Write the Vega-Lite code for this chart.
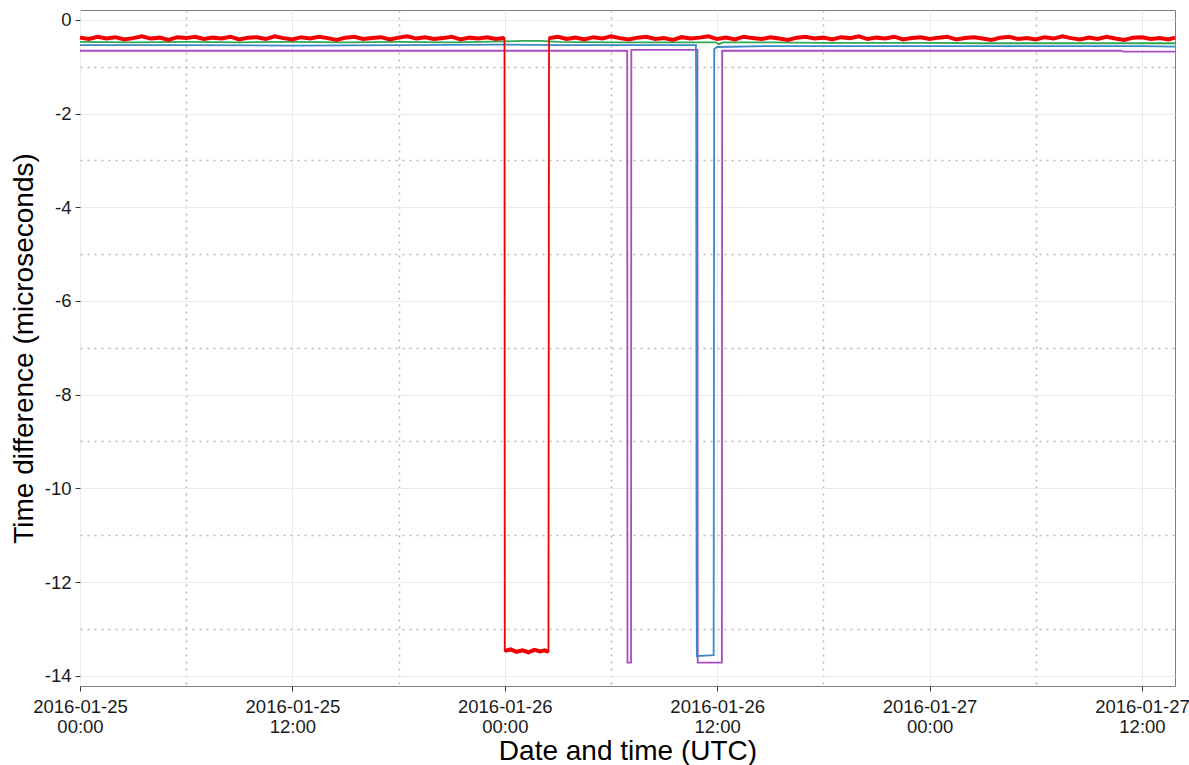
{
  "$schema": "https://vega.github.io/schema/vega-lite/v6.json",
  "width": 1095,
  "height": 676,
  "autosize": {"type": "none"},
  "padding": {"left": 80, "top": 10, "right": 14, "bottom": 79},
  "background": "white",
  "config": {
    "font": "Liberation Sans",
    "view": {"stroke": "#7f7f7f", "strokeWidth": 1},
    "axis": {
      "domain": false,
      "tickColor": "#333333",
      "tickSize": 5,
      "tickWidth": 1,
      "labelFont": "Liberation Sans",
      "labelFontSize": 18.5,
      "labelColor": "#1a1a1a",
      "titleFont": "Liberation Sans",
      "titleFontSize": 28,
      "titleFontWeight": "normal",
      "titleColor": "#000000",
      "labelOverlap": false,
      "labelFlush": false,
      "labelBound": false
    }
  },
  "datasets": {
    "others": [
      {"series": "purple", "t": "2016-01-25T00:00:00Z", "v": -0.66},
      {"series": "purple", "t": "2016-01-25T12:00:00Z", "v": -0.66},
      {"series": "purple", "t": "2016-01-26T00:00:00Z", "v": -0.66},
      {"series": "purple", "t": "2016-01-26T06:55:00Z", "v": -0.66},
      {"series": "purple", "t": "2016-01-26T06:56:00Z", "v": -13.72},
      {"series": "purple", "t": "2016-01-26T07:08:00Z", "v": -13.72},
      {"series": "purple", "t": "2016-01-26T07:09:00Z", "v": -0.64},
      {"series": "purple", "t": "2016-01-26T10:53:00Z", "v": -0.64},
      {"series": "purple", "t": "2016-01-26T10:54:00Z", "v": -13.72},
      {"series": "purple", "t": "2016-01-26T12:16:00Z", "v": -13.72},
      {"series": "purple", "t": "2016-01-26T12:17:00Z", "v": -0.66},
      {"series": "purple", "t": "2016-01-27T00:00:00Z", "v": -0.66},
      {"series": "purple", "t": "2016-01-27T10:50:00Z", "v": -0.66},
      {"series": "purple", "t": "2016-01-27T10:55:00Z", "v": -0.68},
      {"series": "purple", "t": "2016-01-27T13:52:00Z", "v": -0.68},
      {"series": "blue", "t": "2016-01-25T00:00:00Z", "v": -0.54},
      {"series": "blue", "t": "2016-01-25T06:00:00Z", "v": -0.54},
      {"series": "blue", "t": "2016-01-25T12:00:00Z", "v": -0.55},
      {"series": "blue", "t": "2016-01-25T18:00:00Z", "v": -0.54},
      {"series": "blue", "t": "2016-01-26T00:00:00Z", "v": -0.53},
      {"series": "blue", "t": "2016-01-26T03:00:00Z", "v": -0.54},
      {"series": "blue", "t": "2016-01-26T06:00:00Z", "v": -0.54},
      {"series": "blue", "t": "2016-01-26T09:00:00Z", "v": -0.54},
      {"series": "blue", "t": "2016-01-26T10:48:00Z", "v": -0.54},
      {"series": "blue", "t": "2016-01-26T10:49:00Z", "v": -1.9},
      {"series": "blue", "t": "2016-01-26T10:50:00Z", "v": -11.6},
      {"series": "blue", "t": "2016-01-26T10:51:00Z", "v": -13.58},
      {"series": "blue", "t": "2016-01-26T11:20:00Z", "v": -13.57},
      {"series": "blue", "t": "2016-01-26T11:48:00Z", "v": -13.56},
      {"series": "blue", "t": "2016-01-26T11:49:00Z", "v": -7.7},
      {"series": "blue", "t": "2016-01-26T11:50:00Z", "v": -0.62},
      {"series": "blue", "t": "2016-01-26T12:00:00Z", "v": -0.58},
      {"series": "blue", "t": "2016-01-26T15:00:00Z", "v": -0.56},
      {"series": "blue", "t": "2016-01-26T18:00:00Z", "v": -0.56},
      {"series": "blue", "t": "2016-01-27T00:00:00Z", "v": -0.56},
      {"series": "blue", "t": "2016-01-27T06:00:00Z", "v": -0.56},
      {"series": "blue", "t": "2016-01-27T12:00:00Z", "v": -0.56},
      {"series": "blue", "t": "2016-01-27T13:52:00Z", "v": -0.57},
      {"series": "green", "t": "2016-01-25T00:00:00Z", "v": -0.47},
      {"series": "green", "t": "2016-01-25T03:00:00Z", "v": -0.48},
      {"series": "green", "t": "2016-01-25T06:00:00Z", "v": -0.47},
      {"series": "green", "t": "2016-01-25T09:00:00Z", "v": -0.48},
      {"series": "green", "t": "2016-01-25T12:00:00Z", "v": -0.47},
      {"series": "green", "t": "2016-01-25T15:00:00Z", "v": -0.48},
      {"series": "green", "t": "2016-01-25T18:00:00Z", "v": -0.47},
      {"series": "green", "t": "2016-01-25T21:00:00Z", "v": -0.48},
      {"series": "green", "t": "2016-01-26T00:00:00Z", "v": -0.46},
      {"series": "green", "t": "2016-01-26T01:00:00Z", "v": -0.45},
      {"series": "green", "t": "2016-01-26T02:00:00Z", "v": -0.45},
      {"series": "green", "t": "2016-01-26T03:00:00Z", "v": -0.47},
      {"series": "green", "t": "2016-01-26T06:00:00Z", "v": -0.48},
      {"series": "green", "t": "2016-01-26T09:00:00Z", "v": -0.48},
      {"series": "green", "t": "2016-01-26T11:55:00Z", "v": -0.48},
      {"series": "green", "t": "2016-01-26T12:05:00Z", "v": -0.52},
      {"series": "green", "t": "2016-01-26T12:20:00Z", "v": -0.48},
      {"series": "green", "t": "2016-01-26T15:00:00Z", "v": -0.48},
      {"series": "green", "t": "2016-01-26T18:00:00Z", "v": -0.49},
      {"series": "green", "t": "2016-01-26T21:00:00Z", "v": -0.49},
      {"series": "green", "t": "2016-01-27T00:00:00Z", "v": -0.49},
      {"series": "green", "t": "2016-01-27T03:00:00Z", "v": -0.5},
      {"series": "green", "t": "2016-01-27T06:00:00Z", "v": -0.5},
      {"series": "green", "t": "2016-01-27T09:00:00Z", "v": -0.5},
      {"series": "green", "t": "2016-01-27T12:00:00Z", "v": -0.5},
      {"series": "green", "t": "2016-01-27T13:52:00Z", "v": -0.5}
    ],
    "red": [
      {"run": 1, "t": "2016-01-25T00:00:00Z", "v": -0.38},
      {"run": 1, "t": "2016-01-25T00:30:00Z", "v": -0.41},
      {"run": 1, "t": "2016-01-25T01:00:00Z", "v": -0.36},
      {"run": 1, "t": "2016-01-25T01:30:00Z", "v": -0.40},
      {"run": 1, "t": "2016-01-25T02:00:00Z", "v": -0.37},
      {"run": 1, "t": "2016-01-25T02:30:00Z", "v": -0.42},
      {"run": 1, "t": "2016-01-25T03:00:00Z", "v": -0.39},
      {"run": 1, "t": "2016-01-25T03:30:00Z", "v": -0.35},
      {"run": 1, "t": "2016-01-25T04:00:00Z", "v": -0.40},
      {"run": 1, "t": "2016-01-25T04:30:00Z", "v": -0.38},
      {"run": 1, "t": "2016-01-25T05:00:00Z", "v": -0.43},
      {"run": 1, "t": "2016-01-25T05:30:00Z", "v": -0.37},
      {"run": 1, "t": "2016-01-25T06:00:00Z", "v": -0.39},
      {"run": 1, "t": "2016-01-25T06:30:00Z", "v": -0.36},
      {"run": 1, "t": "2016-01-25T07:00:00Z", "v": -0.41},
      {"run": 1, "t": "2016-01-25T07:30:00Z", "v": -0.38},
      {"run": 1, "t": "2016-01-25T08:00:00Z", "v": -0.40},
      {"run": 1, "t": "2016-01-25T08:30:00Z", "v": -0.36},
      {"run": 1, "t": "2016-01-25T09:00:00Z", "v": -0.42},
      {"run": 1, "t": "2016-01-25T09:30:00Z", "v": -0.38},
      {"run": 1, "t": "2016-01-25T10:00:00Z", "v": -0.37},
      {"run": 1, "t": "2016-01-25T10:30:00Z", "v": -0.41},
      {"run": 1, "t": "2016-01-25T11:00:00Z", "v": -0.35},
      {"run": 1, "t": "2016-01-25T11:30:00Z", "v": -0.39},
      {"run": 1, "t": "2016-01-25T12:00:00Z", "v": -0.42},
      {"run": 1, "t": "2016-01-25T12:30:00Z", "v": -0.37},
      {"run": 1, "t": "2016-01-25T13:00:00Z", "v": -0.40},
      {"run": 1, "t": "2016-01-25T13:30:00Z", "v": -0.36},
      {"run": 1, "t": "2016-01-25T14:00:00Z", "v": -0.39},
      {"run": 1, "t": "2016-01-25T14:30:00Z", "v": -0.43},
      {"run": 1, "t": "2016-01-25T15:00:00Z", "v": -0.38},
      {"run": 1, "t": "2016-01-25T15:30:00Z", "v": -0.36},
      {"run": 1, "t": "2016-01-25T16:00:00Z", "v": -0.41},
      {"run": 1, "t": "2016-01-25T16:30:00Z", "v": -0.39},
      {"run": 1, "t": "2016-01-25T17:00:00Z", "v": -0.37},
      {"run": 1, "t": "2016-01-25T17:30:00Z", "v": -0.42},
      {"run": 1, "t": "2016-01-25T18:00:00Z", "v": -0.38},
      {"run": 1, "t": "2016-01-25T18:30:00Z", "v": -0.35},
      {"run": 1, "t": "2016-01-25T19:00:00Z", "v": -0.40},
      {"run": 1, "t": "2016-01-25T19:30:00Z", "v": -0.37},
      {"run": 1, "t": "2016-01-25T20:00:00Z", "v": -0.41},
      {"run": 1, "t": "2016-01-25T20:30:00Z", "v": -0.39},
      {"run": 1, "t": "2016-01-25T21:00:00Z", "v": -0.36},
      {"run": 1, "t": "2016-01-25T21:30:00Z", "v": -0.42},
      {"run": 1, "t": "2016-01-25T22:00:00Z", "v": -0.38},
      {"run": 1, "t": "2016-01-25T22:30:00Z", "v": -0.40},
      {"run": 1, "t": "2016-01-25T23:00:00Z", "v": -0.37},
      {"run": 1, "t": "2016-01-25T23:30:00Z", "v": -0.41},
      {"run": 1, "t": "2016-01-25T23:59:00Z", "v": -0.39},
      {"run": 2, "t": "2016-01-26T00:00:00Z", "v": -13.47},
      {"run": 2, "t": "2016-01-26T00:20:00Z", "v": -13.44},
      {"run": 2, "t": "2016-01-26T00:40:00Z", "v": -13.49},
      {"run": 2, "t": "2016-01-26T01:00:00Z", "v": -13.46},
      {"run": 2, "t": "2016-01-26T01:20:00Z", "v": -13.50},
      {"run": 2, "t": "2016-01-26T01:40:00Z", "v": -13.45},
      {"run": 2, "t": "2016-01-26T02:00:00Z", "v": -13.48},
      {"run": 2, "t": "2016-01-26T02:15:00Z", "v": -13.46},
      {"run": 2, "t": "2016-01-26T02:28:00Z", "v": -13.49},
      {"run": 3, "t": "2016-01-26T02:30:00Z", "v": -0.39},
      {"run": 3, "t": "2016-01-26T03:00:00Z", "v": -0.36},
      {"run": 3, "t": "2016-01-26T03:30:00Z", "v": -0.41},
      {"run": 3, "t": "2016-01-26T04:00:00Z", "v": -0.38},
      {"run": 3, "t": "2016-01-26T04:30:00Z", "v": -0.42},
      {"run": 3, "t": "2016-01-26T05:00:00Z", "v": -0.37},
      {"run": 3, "t": "2016-01-26T05:30:00Z", "v": -0.40},
      {"run": 3, "t": "2016-01-26T06:00:00Z", "v": -0.35},
      {"run": 3, "t": "2016-01-26T06:30:00Z", "v": -0.39},
      {"run": 3, "t": "2016-01-26T07:00:00Z", "v": -0.42},
      {"run": 3, "t": "2016-01-26T07:30:00Z", "v": -0.38},
      {"run": 3, "t": "2016-01-26T08:00:00Z", "v": -0.36},
      {"run": 3, "t": "2016-01-26T08:30:00Z", "v": -0.41},
      {"run": 3, "t": "2016-01-26T09:00:00Z", "v": -0.39},
      {"run": 3, "t": "2016-01-26T09:30:00Z", "v": -0.43},
      {"run": 3, "t": "2016-01-26T10:00:00Z", "v": -0.37},
      {"run": 3, "t": "2016-01-26T10:30:00Z", "v": -0.40},
      {"run": 3, "t": "2016-01-26T11:00:00Z", "v": -0.38},
      {"run": 3, "t": "2016-01-26T11:30:00Z", "v": -0.35},
      {"run": 3, "t": "2016-01-26T12:00:00Z", "v": -0.41},
      {"run": 3, "t": "2016-01-26T12:30:00Z", "v": -0.38},
      {"run": 3, "t": "2016-01-26T13:00:00Z", "v": -0.42},
      {"run": 3, "t": "2016-01-26T13:30:00Z", "v": -0.36},
      {"run": 3, "t": "2016-01-26T14:00:00Z", "v": -0.39},
      {"run": 3, "t": "2016-01-26T14:30:00Z", "v": -0.41},
      {"run": 3, "t": "2016-01-26T15:00:00Z", "v": -0.37},
      {"run": 3, "t": "2016-01-26T15:30:00Z", "v": -0.40},
      {"run": 3, "t": "2016-01-26T16:00:00Z", "v": -0.43},
      {"run": 3, "t": "2016-01-26T16:30:00Z", "v": -0.38},
      {"run": 3, "t": "2016-01-26T17:00:00Z", "v": -0.36},
      {"run": 3, "t": "2016-01-26T17:30:00Z", "v": -0.40},
      {"run": 3, "t": "2016-01-26T18:00:00Z", "v": -0.38},
      {"run": 3, "t": "2016-01-26T18:30:00Z", "v": -0.42},
      {"run": 3, "t": "2016-01-26T19:00:00Z", "v": -0.37},
      {"run": 3, "t": "2016-01-26T19:30:00Z", "v": -0.39},
      {"run": 3, "t": "2016-01-26T20:00:00Z", "v": -0.35},
      {"run": 3, "t": "2016-01-26T20:30:00Z", "v": -0.41},
      {"run": 3, "t": "2016-01-26T21:00:00Z", "v": -0.38},
      {"run": 3, "t": "2016-01-26T21:30:00Z", "v": -0.40},
      {"run": 3, "t": "2016-01-26T22:00:00Z", "v": -0.36},
      {"run": 3, "t": "2016-01-26T22:30:00Z", "v": -0.42},
      {"run": 3, "t": "2016-01-26T23:00:00Z", "v": -0.39},
      {"run": 3, "t": "2016-01-26T23:30:00Z", "v": -0.37},
      {"run": 3, "t": "2016-01-27T00:00:00Z", "v": -0.41},
      {"run": 3, "t": "2016-01-27T00:30:00Z", "v": -0.38},
      {"run": 3, "t": "2016-01-27T01:00:00Z", "v": -0.36},
      {"run": 3, "t": "2016-01-27T01:30:00Z", "v": -0.42},
      {"run": 3, "t": "2016-01-27T02:00:00Z", "v": -0.39},
      {"run": 3, "t": "2016-01-27T02:30:00Z", "v": -0.37},
      {"run": 3, "t": "2016-01-27T03:00:00Z", "v": -0.40},
      {"run": 3, "t": "2016-01-27T03:30:00Z", "v": -0.43},
      {"run": 3, "t": "2016-01-27T04:00:00Z", "v": -0.38},
      {"run": 3, "t": "2016-01-27T04:30:00Z", "v": -0.36},
      {"run": 3, "t": "2016-01-27T05:00:00Z", "v": -0.41},
      {"run": 3, "t": "2016-01-27T05:30:00Z", "v": -0.39},
      {"run": 3, "t": "2016-01-27T06:00:00Z", "v": -0.42},
      {"run": 3, "t": "2016-01-27T06:30:00Z", "v": -0.37},
      {"run": 3, "t": "2016-01-27T07:00:00Z", "v": -0.40},
      {"run": 3, "t": "2016-01-27T07:30:00Z", "v": -0.35},
      {"run": 3, "t": "2016-01-27T08:00:00Z", "v": -0.39},
      {"run": 3, "t": "2016-01-27T08:30:00Z", "v": -0.42},
      {"run": 3, "t": "2016-01-27T09:00:00Z", "v": -0.38},
      {"run": 3, "t": "2016-01-27T09:30:00Z", "v": -0.41},
      {"run": 3, "t": "2016-01-27T10:00:00Z", "v": -0.36},
      {"run": 3, "t": "2016-01-27T10:30:00Z", "v": -0.40},
      {"run": 3, "t": "2016-01-27T11:00:00Z", "v": -0.43},
      {"run": 3, "t": "2016-01-27T11:30:00Z", "v": -0.38},
      {"run": 3, "t": "2016-01-27T12:00:00Z", "v": -0.37},
      {"run": 3, "t": "2016-01-27T12:30:00Z", "v": -0.41},
      {"run": 3, "t": "2016-01-27T13:00:00Z", "v": -0.39},
      {"run": 3, "t": "2016-01-27T13:30:00Z", "v": -0.42},
      {"run": 3, "t": "2016-01-27T13:52:00Z", "v": -0.38}
    ]
  },
  "encoding": {
    "x": {
      "field": "t",
      "type": "temporal",
      "scale": {
        "type": "utc",
        "nice": false,
        "domain": [
          {"year": 2016, "month": 1, "date": 25, "hours": 0, "minutes": 0, "utc": true},
          {"year": 2016, "month": 1, "date": 27, "hours": 13, "minutes": 52, "utc": true}
        ]
      },
      "axis": {
        "title": "Date and time (UTC)",
        "titlePadding": 2,
        "labelPadding": 6,
        "labelLineHeight": 20,
        "values": [
          {"year": 2016, "month": 1, "date": 25, "hours": 0, "utc": true},
          {"year": 2016, "month": 1, "date": 25, "hours": 6, "utc": true},
          {"year": 2016, "month": 1, "date": 25, "hours": 12, "utc": true},
          {"year": 2016, "month": 1, "date": 25, "hours": 18, "utc": true},
          {"year": 2016, "month": 1, "date": 26, "hours": 0, "utc": true},
          {"year": 2016, "month": 1, "date": 26, "hours": 6, "utc": true},
          {"year": 2016, "month": 1, "date": 26, "hours": 12, "utc": true},
          {"year": 2016, "month": 1, "date": 26, "hours": 18, "utc": true},
          {"year": 2016, "month": 1, "date": 27, "hours": 0, "utc": true},
          {"year": 2016, "month": 1, "date": 27, "hours": 6, "utc": true},
          {"year": 2016, "month": 1, "date": 27, "hours": 12, "utc": true}
        ],
        "labelExpr": "utchours(datum.value) % 12 == 0 ? [utcFormat(datum.value, '%Y-%m-%d'), utcFormat(datum.value, '%H:%M')] : ''",
        "tickOpacity": {"condition": {"test": "utchours(datum.value) % 12 != 0", "value": 0}, "value": 1},
        "gridColor": {"condition": {"test": "utchours(datum.value) % 12 != 0", "value": "#b8b8b8"}, "value": "#ebebeb"},
        "gridDash": {"condition": {"test": "utchours(datum.value) % 12 != 0", "value": [2, 5]}, "value": []},
        "gridWidth": {"condition": {"test": "utchours(datum.value) % 12 != 0", "value": 1.5}, "value": 1}
      }
    },
    "y": {
      "field": "v",
      "type": "quantitative",
      "scale": {"domain": [-14.22, 0.21], "nice": false, "zero": false},
      "axis": {
        "title": "Time difference (microseconds)",
        "titlePadding": 6,
        "labelPadding": 4,
        "values": [-14, -13, -12, -11, -10, -9, -8, -7, -6, -5, -4, -3, -2, -1, 0],
        "labelExpr": "datum.value % 2 == 0 ? '' + datum.value : ''",
        "tickOpacity": {"condition": {"test": "datum.value % 2 != 0", "value": 0}, "value": 1},
        "gridColor": {"condition": {"test": "datum.value % 2 != 0", "value": "#b8b8b8"}, "value": "#ebebeb"},
        "gridDash": {"condition": {"test": "datum.value % 2 != 0", "value": [2, 5]}, "value": []},
        "gridWidth": {"condition": {"test": "datum.value % 2 != 0", "value": 1.5}, "value": 1}
      }
    }
  },
  "layer": [
    {
      "data": {"name": "others"},
      "mark": {"type": "line", "strokeWidth": 1.8},
      "encoding": {
        "color": {
          "field": "series",
          "type": "nominal",
          "scale": {"domain": ["purple", "blue", "green"], "range": ["#a94cbf", "#3a87c8", "#2fa84f"]},
          "legend": null
        }
      }
    },
    {
      "data": {"name": "red"},
      "mark": {"type": "line", "strokeWidth": 1.8, "color": "#f20000"},
      "encoding": {}
    },
    {
      "data": {"name": "red"},
      "mark": {"type": "line", "strokeWidth": 4, "color": "#f20000"},
      "encoding": {"detail": {"field": "run", "type": "nominal"}}
    }
  ]
}
